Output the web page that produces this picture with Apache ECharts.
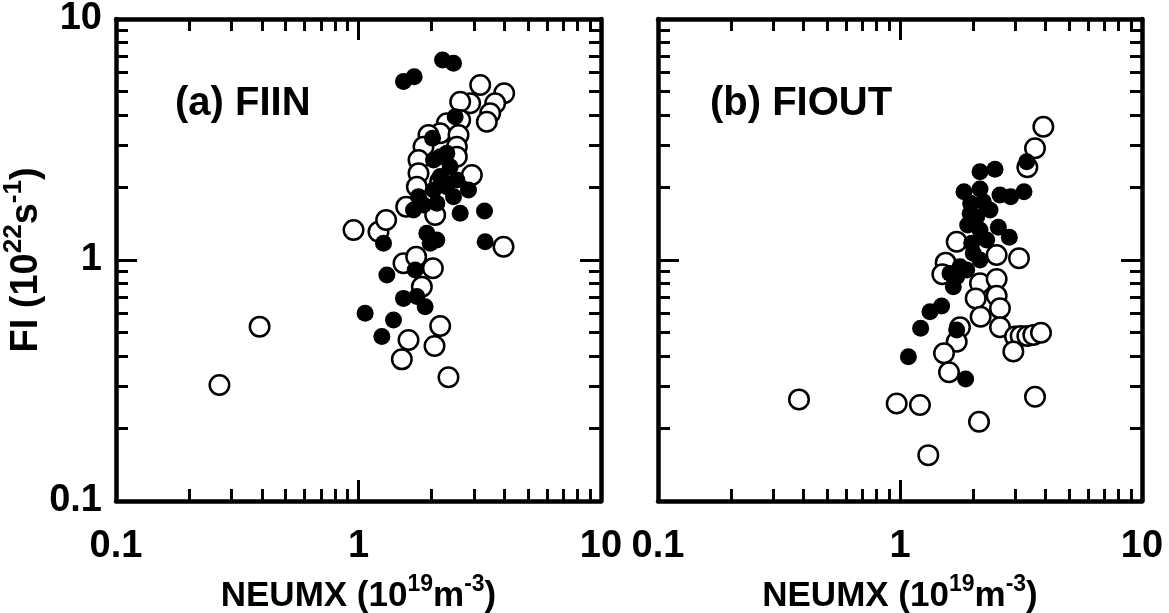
<!DOCTYPE html>
<html>
<head>
<meta charset="utf-8">
<script src="https://cdn.jsdelivr.net/npm/echarts@6.0.0/dist/echarts.min.js"></script>
<style>
html,body{margin:0;padding:0;background:#fff;}
#chart{width:1169px;height:613px;}
</style>
</head>
<body>
<div id="chart"></div>
<script>
// ---------- DATA ----------
const axisTickValues = [0.1, 1, 10];
const panelLabels = ['(a) FIIN', '(b) FIOUT'];
const xAxisTitle = ['NEUMX (10', '19', 'm', '-3', ')'];
const yAxisTitle = ['FI (10', '22', 's', '-1', ')'];

// (a) FIIN : open circles [NEUMX, FI]
const fiinOpen = [
  [0.267,0.303],[0.391,0.529],[0.954,1.332],[1.209,1.311],[1.300,1.466],[1.573,1.665],
  [3.963,1.136],[1.533,0.969],[1.729,1.032],[2.026,0.924],[1.825,0.775],[2.172,0.532],
  [2.058,0.440],[1.608,0.466],[1.509,0.387],[2.350,0.326],[3.176,5.32],[3.988,4.915],
  [3.661,4.468],[3.491,4.061],[3.382,3.750],[2.887,4.468],[2.626,4.539],[2.626,3.810],
  [2.313,3.690],[2.172,3.355],[2.585,3.302],[1.944,3.302],[1.854,2.953],[2.544,2.953],
  [1.768,2.600],[1.768,2.289],[2.934,2.253],[1.740,2.015],[2.172,2.114],[2.544,2.684],
  [2.071,1.537]
];
// (a) FIIN : filled circles
const fiinFilled = [
  [1.533,5.50],[1.697,5.765],[2.221,6.76],[2.465,6.55],[2.504,3.933],[2.020,3.198],
  [2.172,2.684],[2.388,2.439],[2.172,2.218],[2.544,2.148],[2.842,1.952],[2.626,1.562],
  [3.308,1.597],[1.854,1.691],[2.104,1.719],[1.686,1.612],[1.768,1.832],[1.913,1.290],
  [2.104,1.211],[1.975,1.173],[1.268,1.173],[3.329,1.191],[1.713,0.909],[1.309,0.866],
  [1.533,0.693],[1.740,0.705],[1.883,0.640],[1.394,0.564],[1.248,0.481],[1.065,0.601],
  [2.313,2.771],[2.039,2.600],[2.313,2.015],[2.039,1.952],[2.465,1.832]
];
// (b) FIOUT : open circles
const fioutOpen = [
  [0.3825,0.264],[0.969,0.254],[1.209,0.250],[1.309,0.155],[2.121,0.2134],[3.613,0.271],
  [3.911,3.575],[3.613,2.906],[3.359,2.424],[1.715,1.191],[2.508,1.049],[3.103,1.016],
  [1.544,0.975],[1.496,0.872],[2.141,0.800],[2.508,0.834],[2.508,0.711],[2.055,0.693],
  [2.589,0.630],[2.154,0.582],[2.589,0.526],[2.988,0.481],[3.152,0.484],[3.359,0.484],
  [3.556,0.489],[3.825,0.499],[2.940,0.417],[1.770,0.526],[1.715,0.458],[1.520,0.410],
  [1.594,0.342]
];
// (b) FIOUT : filled circles
const fioutFilled = [
  [3.338,2.559],[2.141,2.326],[2.469,2.378],[1.838,1.921],[2.141,1.971],[2.589,1.861],
  [3.254,1.921],[2.867,1.832],[1.959,1.719],[2.210,1.746],[1.904,1.397],[2.141,1.332],
  [2.549,1.366],[2.830,1.242],[2.281,1.211],[1.978,1.173],[2.009,1.066],[1.770,0.938],
  [1.886,0.909],[1.715,0.853],[1.661,0.775],[1.486,0.645],[1.330,0.610],[1.217,0.521],
  [1.083,0.397],[1.715,0.512],[1.867,0.321],[2.141,1.000],[2.074,1.513],[2.355,1.612],
  [1.950,1.560],[1.610,0.880]
];

// ---------- CHART ----------
const FONT = '"Liberation Sans", Arial, Helvetica, sans-serif';
const chart = echarts.init(document.getElementById('chart'), null, {renderer: 'canvas'});

const grids = [
  {left: 116, top: 19, width: 485, height: 482, outerBoundsMode: 'none', containLabel: false},
  {left: 658, top: 19, width: 484, height: 482, outerBoundsMode: 'none', containLabel: false}
];

function richTitle(parts) {
  return '{a|' + parts[0] + '}{s|' + parts[1] + '}{a|' + parts[2] + '}{s|' + parts[3] + '}{a|' + parts[4] + '}';
}
function makeRich(main, sup) {
  return {
    a: {fontSize: main, fontWeight: 'bold', fontFamily: FONT, color: '#000', lineHeight: main + 6, verticalAlign: 'bottom'},
    s: {fontSize: sup, fontWeight: 'bold', fontFamily: FONT, color: '#000', lineHeight: main + 6, verticalAlign: 'top'}
  };
}

function axisCommon(extra) {
  return Object.assign({
    type: 'log', logBase: 10, min: 0.1, max: 10,
    axisLine: {show: true, onZero: false, lineStyle: {color: '#000', width: 4.5}},
    axisTick: {show: true, inside: true, length: 21, lineStyle: {color: '#000', width: 3}},
    minorTick: {show: true, splitNumber: 9, length: 12, lineStyle: {color: '#000', width: 3}},
    splitLine: {show: false},
    minorSplitLine: {show: false}
  }, extra);
}
const labelStyle = {show: true, fontSize: 38, fontWeight: 'bold', fontFamily: FONT, color: '#000',
  showMinLabel: true, showMaxLabel: true};

const xAxes = [], yAxes = [];
grids.forEach(function (g, i) {
  xAxes.push(axisCommon({
    gridIndex: i, position: 'bottom',
    axisLabel: Object.assign({}, labelStyle, {margin: 27}),
    name: richTitle(xAxisTitle), nameLocation: 'middle', nameGap: 72,
    nameTextStyle: {rich: makeRich(35, 23)}
  }));
  xAxes.push(axisCommon({gridIndex: i, position: 'top', axisLabel: {show: false}}));
  const yMain = axisCommon({
    gridIndex: i, position: 'left',
    axisLabel: i === 0 ? Object.assign({}, labelStyle, {margin: 14}) : {show: false}
  });
  if (i === 0) {
    yMain.name = richTitle(yAxisTitle);
    yMain.nameLocation = 'middle';
    yMain.nameGap = 70;
    yMain.nameRotate = 90;
    yMain.nameTextStyle = {rich: makeRich(38, 26)};
  }
  yAxes.push(yMain);
  yAxes.push(axisCommon({gridIndex: i, position: 'right', axisLabel: {show: false}}));
});

function openSeries(data, idx) {
  return {type: 'scatter', xAxisIndex: idx * 2, yAxisIndex: idx * 2, data: data,
    symbol: 'circle', symbolSize: 19.5, z: 2, silent: true,
    itemStyle: {color: '#fff', borderColor: '#000', borderWidth: 2.5, opacity: 1}};
}
function filledSeries(data, idx) {
  return {type: 'scatter', xAxisIndex: idx * 2, yAxisIndex: idx * 2, data: data,
    symbol: 'circle', symbolSize: 17, z: 3, silent: true,
    itemStyle: {color: '#000', borderWidth: 0, opacity: 1}};
}

const option = {
  backgroundColor: '#fff',
  animation: false,
  grid: grids,
  xAxis: xAxes,
  yAxis: yAxes,
  graphic: [
    {type: 'text', left: 175, top: 84, style: {text: panelLabels[0], fontSize: 40, fontWeight: 'bold', fontFamily: FONT, fill: '#000'}},
    {type: 'text', left: 710, top: 84, style: {text: panelLabels[1], fontSize: 40, fontWeight: 'bold', fontFamily: FONT, fill: '#000'}}
  ],
  series: [
    openSeries(fiinOpen, 0), filledSeries(fiinFilled, 0),
    openSeries(fioutOpen, 1), filledSeries(fioutFilled, 1)
  ]
};
chart.setOption(option);
</script>
</body>
</html>
